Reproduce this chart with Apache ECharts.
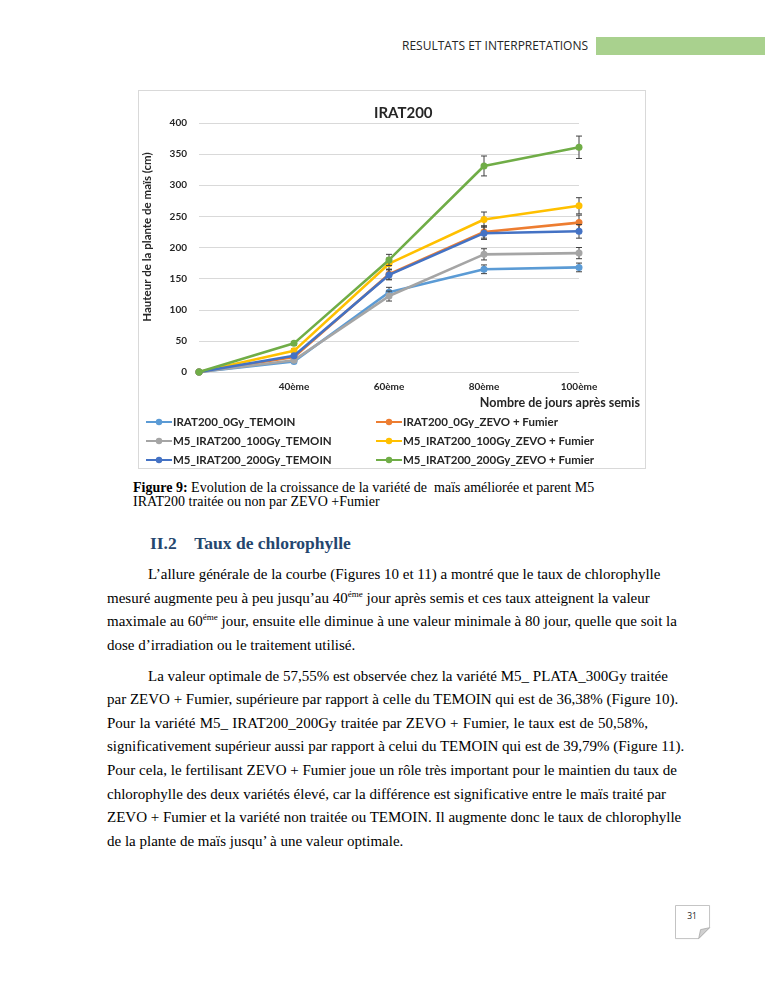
<!DOCTYPE html>
<html>
<head>
<meta charset="utf-8">
<script src="https://cdn.jsdelivr.net/npm/echarts@6/dist/echarts.min.js"></script>
<style>
  html, body { margin:0; padding:0; background:#fff; }
  #page { position:relative; width:765px; height:990px; overflow:hidden; background:#fff; }
  .abs { position:absolute; white-space:nowrap; }
  #hdrText { left:402px; top:37px; font-family:"Open Sans", sans-serif; font-size:12px; color:#262626; line-height:18px; }
  #hdrBar { left:596px; top:37px; width:169px; height:18px; background:#a9d18e; }
  #chartBox { position:absolute; left:138px; top:90px; width:506px; height:377px; border:1px solid #d9d9d9; }
  #chart { width:506px; height:377px; }
  .cap { font-family:"Liberation Serif", serif; font-size:14px; color:#000; left:133px; line-height:14px; }
  #heading { left:150px; top:532px; font-family:"Liberation Serif", serif; font-weight:bold; font-size:17.5px; color:#24466e; line-height:22px; }
  .ln { position:absolute; left:107px; width:541px; height:24px; line-height:24px; font-family:"Liberation Serif", serif; font-size:15px; color:#000; text-align:justify; text-align-last:justify; white-space:nowrap; }
  .ln.ind { left:148px; width:500px; }
  .ln.last { text-align-last:left; }
  .ln sup { font-size:9px; line-height:0; vertical-align:6px; }
  #pnum { left:675px; top:905px; width:36px; height:35px; }
</style>
</head>
<body>
<div id="page">
  <div id="hdrText" class="abs">RESULTATS ET INTERPRETATIONS</div>
  <div id="hdrBar" class="abs"></div>

  <div id="chartBox"><div id="chart"></div></div>

  <div class="abs cap" style="top:481px;"><b>Figure 9:</b> Evolution de la croissance de la variété de &nbsp;maïs améliorée et parent M5</div>
  <div class="abs cap" style="top:495px;">IRAT200 traitée ou non par ZEVO +Fumier</div>

  <div id="heading" class="abs">II.2&nbsp;&nbsp;&nbsp;&nbsp;Taux de chlorophylle</div>

  <div class="ln ind" style="top:562px;">L’allure générale de la courbe (Figures 10 et 11) a montré que le taux de chlorophylle</div>
  <div class="ln" style="top:586px;">mesuré augmente peu à peu jusqu’au 40<sup>éme</sup> jour après semis et ces taux atteignent la valeur</div>
  <div class="ln" style="top:609px;">maximale au 60<sup>éme</sup> jour, ensuite elle diminue à une valeur minimale à 80 jour, quelle que soit la</div>
  <div class="ln last" style="top:633px;">dose d’irradiation ou le traitement utilisé.</div>
  <div class="ln ind" style="top:664px;">La valeur optimale de 57,55% est observée chez la variété M5_ PLATA_300Gy traitée</div>
  <div class="ln" style="top:687px;">par ZEVO + Fumier, supérieure par rapport à celle du TEMOIN qui est de 36,38% (Figure 10).</div>
  <div class="ln" style="top:711px;">Pour la variété M5_ IRAT200_200Gy traitée par ZEVO + Fumier, le taux est de 50,58%,</div>
  <div class="ln" style="top:734px;">significativement supérieur aussi par rapport à celui du TEMOIN qui est de 39,79% (Figure 11).</div>
  <div class="ln" style="top:758px;">Pour cela, le fertilisant ZEVO + Fumier joue un rôle très important pour le maintien du taux de</div>
  <div class="ln" style="top:782px;">chlorophylle des deux variétés élevé, car la différence est significative entre le maïs traité par</div>
  <div class="ln" style="top:805px;">ZEVO + Fumier et la variété non traitée ou TEMOIN. Il augmente donc le taux de chlorophylle</div>
  <div class="ln last" style="top:829px;">de la plante de maïs jusqu’ à une valeur optimale.</div>

  <svg id="pnum" class="abs" width="38" height="37" viewBox="0 0 38 37">
    <path d="M0.5 0.5 H36.5 V24 L25 35.5 H0.5 Z" fill="#fff" stroke="#bfbfbf" stroke-width="1"/>
    <path d="M36.5 24 L25 35.5 L27 26 Z" fill="#d0d0d0" stroke="#a6a6a6" stroke-width="0.8"/>
    <text x="18" y="15" text-anchor="middle" font-family="Open Sans, sans-serif" font-size="9" fill="#262626">31</text>
  </svg>
</div>

<script>
// ---- data ----
const categories = ['', '40ème', '60ème', '80ème', '100ème'];
const yTicks = [0, 50, 100, 150, 200, 250, 300, 350, 400];

const nameIrat0Temoin = 'IRAT200_0Gy_TEMOIN';
const nameIrat0Zevo   = 'IRAT200_0Gy_ZEVO + Fumier';
const nameM5100Temoin = 'M5_IRAT200_100Gy_TEMOIN';
const nameM5100Zevo   = 'M5_IRAT200_100Gy_ZEVO + Fumier';
const nameM5200Temoin = 'M5_IRAT200_200Gy_TEMOIN';
const nameM5200Zevo   = 'M5_IRAT200_200Gy_ZEVO + Fumier';

const irat0Temoin = [0, 17, 128, 165, 168];
const irat0Zevo   = [0, 24, 157, 225, 240];
const m5100Temoin = [0, 19, 122, 189, 191];
const m5100Zevo   = [0, 34, 174, 245, 267];
const m5200Temoin = [0, 26, 156, 223, 226];
const m5200Zevo   = [0, 46, 180, 331, 361];

const irat0TemoinErr = [0, 2, 8, 7, 7];
const irat0ZevoErr   = [0, 2, 8, 10, 12];
const m5100TemoinErr = [0, 2, 8, 9, 9];
const m5100ZevoErr   = [0, 3, 9, 12, 13];
const m5200TemoinErr = [0, 2, 8, 10, 11];
const m5200ZevoErr   = [0, 3, 9, 16, 18];

// ---- chart ----
const colors = ['#5B9BD5', '#ED7D31', '#A5A5A5', '#FFC000', '#4472C4', '#70AD47'];
const defs = [
  [nameIrat0Temoin, irat0Temoin, irat0TemoinErr],
  [nameIrat0Zevo, irat0Zevo, irat0ZevoErr],
  [nameM5100Temoin, m5100Temoin, m5100TemoinErr],
  [nameM5100Zevo, m5100Zevo, m5100ZevoErr],
  [nameM5200Temoin, m5200Temoin, m5200TemoinErr],
  [nameM5200Zevo, m5200Zevo, m5200ZevoErr]
];
const font = 'Lato, "Open Sans", sans-serif';

function errRender(params, api) {
  const x = api.value(0);
  const lo = api.coord([x, api.value(1)]);
  const hi = api.coord([x, api.value(2)]);
  const w = 3;
  const st = { stroke: '#404040', lineWidth: 1 };
  return { type: 'group', children: [
    { type: 'line', shape: { x1: lo[0], y1: lo[1], x2: hi[0], y2: hi[1] }, style: st },
    { type: 'line', shape: { x1: lo[0] - w, y1: lo[1], x2: lo[0] + w, y2: lo[1] }, style: st },
    { type: 'line', shape: { x1: hi[0] - w, y1: hi[1], x2: hi[0] + w, y2: hi[1] }, style: st }
  ]};
}

const series = [];
defs.forEach((d, k) => {
  series.push({
    type: 'custom', name: d[0] + ' err', z: 1 + k * 2, silent: true,
    renderItem: errRender,
    encode: { x: 0, y: [1, 2] },
    data: d[1].map((v, i) => [i, v - d[2][i], v + d[2][i]]).filter((r, i) => d[2][i] > 0)
  });
});
defs.forEach((d, k) => {
  series.push({
    type: 'line', name: d[0], data: d[1], z: 2 + k * 2,
    symbol: 'circle', symbolSize: 7,
    lineStyle: { width: 2.6, color: colors[k] },
    itemStyle: { color: colors[k] },
    animation: false
  });
});

const legendText = { fontSize: 11.5, fontWeight: 'bold', color: '#262626', fontFamily: font, padding: [0, 0, 0, -4] };
const chart = echarts.init(document.getElementById('chart'));
chart.setOption({
  animation: false,
  title: [{
    text: 'IRAT200', left: 230, top: 10,
    textStyle: { fontSize: 15, fontWeight: 'bold', color: '#262626', fontFamily: font }
  }, {
    text: 'Nombre de jours après semis', right: 0, top: 300,
    textStyle: { fontSize: 12.5, fontWeight: 'bold', color: '#262626', fontFamily: font }
  }],
  graphic: [{
    type: 'text', x: 8, y: 146, rotation: Math.PI / 2,
    style: {
      text: 'Hauteur de la plante de maïs (cm)', fill: '#262626',
      font: 'bold 11.5px Lato, "Open Sans", sans-serif',
      textAlign: 'center', textVerticalAlign: 'middle'
    }
  }],
  grid: { left: 60, top: 32, width: 380, height: 249, outerBoundsMode: 'none', containLabel: false },
  legend: [{
    data: [nameIrat0Temoin, nameM5100Temoin, nameM5200Temoin],
    orient: 'vertical', left: 6, top: 325, itemGap: 7, itemWidth: 26, itemHeight: 8,
    textStyle: legendText, padding: 0
  }, {
    data: [nameIrat0Zevo, nameM5100Zevo, nameM5200Zevo],
    orient: 'vertical', left: 236, top: 325, itemGap: 7, itemWidth: 26, itemHeight: 8,
    textStyle: legendText, padding: 0
  }],
  xAxis: {
    type: 'category', data: categories, boundaryGap: false,
    axisLine: { show: false }, axisTick: { show: false },
    axisLabel: { fontSize: 10, fontWeight: 'bold', color: '#262626', fontFamily: font, margin: 10 },
    splitLine: { show: false }
  },
  yAxis: {
    type: 'value', min: yTicks[0], max: yTicks[yTicks.length - 1], interval: 50,
    axisLine: { show: false }, axisTick: { show: false },
    axisLabel: { fontSize: 10, fontWeight: 'bold', color: '#262626', fontFamily: font, margin: 12 },
    splitLine: { lineStyle: { color: '#d9d9d9', width: 1 } }
  },
  series: series
});
</script>
</body>
</html>
